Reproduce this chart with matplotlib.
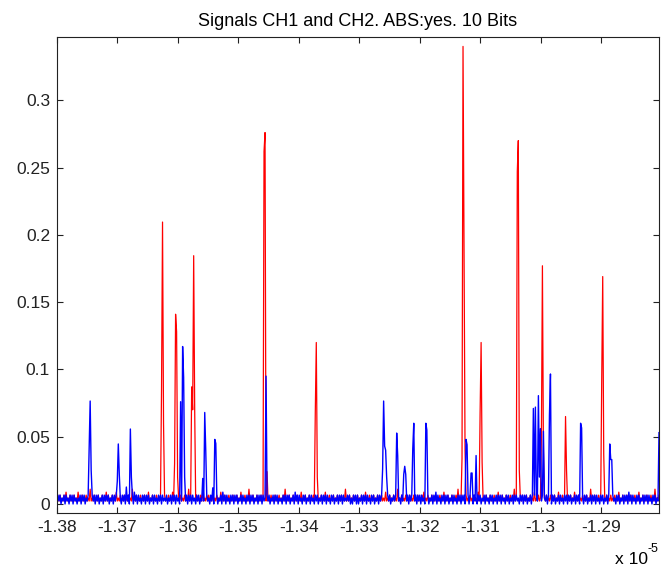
import numpy as np
import matplotlib
matplotlib.use('Agg')
import matplotlib.pyplot as plt
from matplotlib.ticker import FuncFormatter

# time axis limits, in units of 1e-5 s
t_start = -1.38
t_end = -1.2804

# quantised noise floor, one digit per sample (level = digit * step)
level_step = 0.0022
ch1_floor = (
    "12131213141213121312141213121312151213121312131214"
    "13121312141213121312131215121312131213121412131213"
    "12131213121312141213121312131215121312131213141213"
    "13121312131214121312131213121312141213121512131213"
    "12131213141213121312131213151213121312131214121312"
    "13121312131213121412131213121312131215121312131213"
    "12131214121312131213121312141213121312151213121312"
    "13121312131213141213121312131213121412131213121315"
    "12131213121312131214121312131213121312141213121312"
    "13121512131213121312131214121312131213121312131214"
    "12131213121312141213121312131215121312131213121312"
    "13121312141213121312131213121412131213121312151213"
)
ch2_floor = (
    "03130213031203130312021303130213120313031302130313"
    "13021303130312031302130313041303120313031302130312"
    "03130312130213031303120313021303130312031302131303"
    "12031303130213041303120313031302130312031303130213"
    "03130312031302130313021203130313021304130312031302"
    "13031203130213031303120313021303130312131302031303"
    "02130313031203130213031303120313021313031203130213"
    "03130213031303120313021303140312031303130213031203"
    "13031302130312031303130213031203130213031303120313"
    "02130313120313031302130313031203130213031303130213"
    "03120313031302130313031203130213031303120313021303"
    "13031203130213031304130312031302130313031203130213"
)

# pulses (time, amplitude)
ch1_pulse_t = [-1.36264, -1.36248, -1.36231, -1.36050, -1.36033, -1.36017, -1.36000,
               -1.35769, -1.35752, -1.35736, -1.35719, -1.34579, -1.34562, -1.34529,
               -1.33719, -1.33702, -1.33686, -1.31306, -1.31289, -1.31273, -1.31256,
               -1.30992, -1.30975, -1.30959, -1.30380, -1.30364, -1.30347, -1.29983,
               -1.29967, -1.29950, -1.29587, -1.29570, -1.28992, -1.28975, -1.28959]
ch1_pulse_v = [0.084, 0.2095, 0.060, 0.030, 0.141, 0.128, 0.020,
               0.087, 0.070, 0.1845, 0.070, 0.262, 0.276, 0.024,
               0.068, 0.120, 0.020, 0.034, 0.340, 0.187, 0.040,
               0.068, 0.120, 0.031, 0.247, 0.270, 0.025, 0.050,
               0.177, 0.040, 0.065, 0.025, 0.092, 0.169, 0.037]

ch2_pulse_t = [-1.37471, -1.37455, -1.37438, -1.37008, -1.36992, -1.36975, -1.36860,
               -1.36793, -1.36777, -1.35950, -1.35917, -1.35901, -1.35884, -1.35587,
               -1.35554, -1.35537, -1.35421, -1.35388, -1.35372, -1.34545, -1.32611,
               -1.32595, -1.32578, -1.32562, -1.32545, -1.32380, -1.32364, -1.32264,
               -1.32248, -1.32231, -1.32116, -1.32099, -1.31901, -1.31884, -1.31240,
               -1.31223, -1.31157, -1.31140, -1.31074, -1.31058, -1.30116, -1.30083,
               -1.30033, -1.30017, -1.30000, -1.29950, -1.29851, -1.29835, -1.29339,
               -1.29322, -1.28860, -1.28843, -1.28826, -1.28036]
ch2_pulse_v = [0.042, 0.0765, 0.025, 0.017, 0.0446, 0.0215, 0.0126,
               0.0557, 0.020, 0.076, 0.117, 0.094, 0.020, 0.019,
               0.068, 0.040, 0.012, 0.048, 0.045, 0.095, 0.026,
               0.0765, 0.043, 0.040, 0.020, 0.0527, 0.036, 0.022,
               0.028, 0.022, 0.041, 0.060, 0.060, 0.055, 0.048,
               0.044, 0.023, 0.023, 0.036, 0.030, 0.071, 0.072,
               0.0805, 0.020, 0.056, 0.054, 0.066, 0.0966, 0.060,
               0.0565, 0.0446, 0.033, 0.033, 0.053]

x_ticks = [-1.38, -1.37, -1.36, -1.35, -1.34, -1.33, -1.32, -1.31, -1.30, -1.29]
y_ticks = [0, 0.05, 0.1, 0.15, 0.2, 0.25, 0.3]


def build_signal(floor, pulse_t, pulse_v):
    t = np.linspace(t_start, t_end, len(floor))
    y = np.array([int(c) for c in floor]) * level_step
    for pt, pv in zip(pulse_t, pulse_v):
        i = int(np.argmin(np.abs(t - pt)))
        y[i] = max(y[i], pv)
    return t, y


plt.rcParams['font.family'] = ['Liberation Sans', 'DejaVu Sans']
plt.rcParams['axes.unicode_minus'] = False

fig = plt.figure(figsize=(6.61, 5.71), dpi=100)
ax = fig.add_axes([57 / 661, 58 / 571, 602 / 661, 476 / 571])

t1, y1 = build_signal(ch1_floor, ch1_pulse_t, ch1_pulse_v)
t2, y2 = build_signal(ch2_floor, ch2_pulse_t, ch2_pulse_v)
ax.plot(t1, y1, color=(1, 0, 0), lw=0.9)
ax.plot(t2, y2, color=(0, 0, 1), lw=1.0)

ax.set_xlim(t_start, t_end)
ax.set_ylim(-0.0067, 0.347)
ax.set_xticks(x_ticks)
ax.set_yticks(y_ticks)
ax.xaxis.set_major_formatter(FuncFormatter(lambda v, p: '%g' % round(v, 4)))
ax.yaxis.set_major_formatter(FuncFormatter(lambda v, p: '%g' % round(v, 4)))
ax.tick_params(direction='in', length=4, width=0.8, labelsize=12.5, pad=5,
               top=True, right=True, colors='#222222')
for s in ax.spines.values():
    s.set_color('#222222')
    s.set_linewidth(0.8)

ax.set_title('Signals CH1 and CH2. ABS:yes. 10 Bits', fontsize=13, pad=8)

# MATLAB style exponent label at bottom right
fig.text(615 / 661, 11 / 571, 'x 10', fontsize=12.5, ha='left', va='center')
fig.text(648 / 661, 22 / 571, '-5', fontsize=9, ha='left', va='center')

fig.savefig('out.png', dpi=100)
